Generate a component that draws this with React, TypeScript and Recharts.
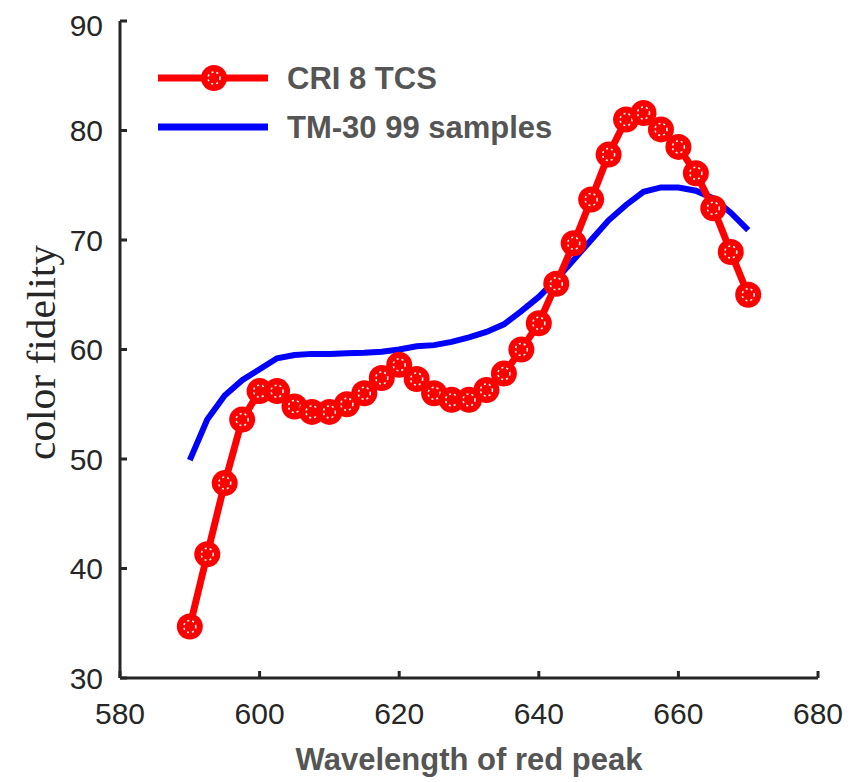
import { LineChart, Line, XAxis, YAxis, Legend } from "recharts";

// wavelength of red peak (nm)
const wavelengths = [
  590, 592.5, 595, 597.5, 600, 602.5, 605, 607.5, 610, 612.5, 615, 617.5, 620,
  622.5, 625, 627.5, 630, 632.5, 635, 637.5, 640, 642.5, 645, 647.5, 650, 652.5,
  655, 657.5, 660, 662.5, 665, 667.5, 670,
];

const cri8 = [
  34.7, 41.3, 47.8, 53.6, 56.2, 56.2, 54.8, 54.3, 54.3, 55.0, 56.0, 57.4, 58.6,
  57.3, 56.0, 55.4, 55.4, 56.3, 57.8, 60.0, 62.4, 66.0, 69.7, 73.7, 77.8, 81.0,
  81.6, 80.1, 78.5, 76.1, 72.9, 68.9, 65.0,
];

const tm30 = [
  49.9, 53.6, 55.8, 57.2, 58.2, 59.2, 59.5, 59.6, 59.6, 59.65, 59.7, 59.8, 60.0,
  60.3, 60.4, 60.7, 61.1, 61.6, 62.3, 63.5, 64.8, 66.4, 68.2, 70.0, 71.8, 73.2,
  74.4, 74.8, 74.8, 74.5, 73.8, 72.5, 70.9,
];

const xTicks = [580, 600, 620, 640, 660, 680];
const yTicks = [30, 40, 50, 60, 70, 80, 90];

const data = wavelengths.map((w, i) => ({ w, cri: cri8[i], tm: tm30[i] }));

const AXIS = "#262626";
const LABEL = "#555555";
const SANS = "'Liberation Sans', Arial, sans-serif";

function Marker({ cx, cy }: { cx?: number; cy?: number }) {
  if (cx == null || cy == null) return null;
  return (
    <g>
      <circle cx={cx} cy={cy} r={13} fill="#ff0000" />
      <circle
        cx={cx}
        cy={cy}
        r={6}
        fill="none"
        stroke="#ffffff"
        strokeWidth={1.5}
        strokeDasharray="2 3"
      />
    </g>
  );
}

function LegendBox() {
  return (
    <svg width={440} height={110} style={{ display: "block" }}>
      <line x1={10} y1={30} x2={120} y2={30} stroke="#ff0000" strokeWidth={7} />
      <Marker cx={66} cy={30} />
      <text x={139} y={41} fontFamily={SANS} fontSize={31} fontWeight="bold" fill={LABEL}>
        CRI 8 TCS
      </text>
      <line x1={10} y1={79} x2={120} y2={79} stroke="#0000ff" strokeWidth={7} />
      <text x={139} y={90} fontFamily={SANS} fontSize={31} fontWeight="bold" fill={LABEL}>
        TM-30 99 samples
      </text>
    </svg>
  );
}

export default function App() {
  return (
    <LineChart
      width={857}
      height={774}
      data={data}
      margin={{ top: 13, right: 47, bottom: 0, left: 0 }}
    >
      <XAxis
        dataKey="w"
        type="number"
        domain={[580, 680]}
        ticks={xTicks}
        height={104}
        tickSize={-7}
        tickMargin={32}
        stroke={AXIS}
        strokeWidth={3}
        tick={{ fill: AXIS, fontSize: 30, fontFamily: SANS }}
        label={{
          content: (p: any) => {
            const vb = p.viewBox || {};
            return (
              <text
                x={vb.x + vb.width / 2}
                y={762}
                textAnchor="middle"
                fontFamily={SANS}
                fontSize={31}
                fontWeight="bold"
                fill={LABEL}
              >
                Wavelength of red peak
              </text>
            );
          },
        }}
      />
      <YAxis
        type="number"
        domain={[30, 90]}
        ticks={yTicks}
        width={112}
        tickSize={-7}
        tickMargin={24}
        stroke={AXIS}
        strokeWidth={3}
        tick={{ fill: AXIS, fontSize: 30, fontFamily: SANS }}
        label={{
          content: (p: any) => {
            const vb = p.viewBox || {};
            const cy = vb.y + vb.height / 2 + 3;
            return (
              <text
                x={47}
                y={cy}
                transform={`rotate(-90, 47, ${cy})`}
                textAnchor="middle"
                fontFamily="'Liberation Serif', 'Times New Roman', serif"
                fontSize={40}
                textLength={215}
                lengthAdjust="spacingAndGlyphs"
                fill={AXIS}
              >
                color fidelity
              </text>
            );
          },
        }}
      />
      <Legend
        layout="horizontal"
        align="center"
        verticalAlign="middle"
        wrapperStyle={{ top: 40, left: 140, width: 440, height: 110 }}
        content={() => <LegendBox />}
      />
      <Line
        dataKey="tm"
        stroke="#0000ff"
        strokeWidth={6}
        dot={false}
        activeDot={false}
        isAnimationActive={false}
      />
      <Line
        dataKey="cri"
        stroke="#ff0000"
        strokeWidth={7}
        dot={(props: any) => <Marker key={props.index} cx={props.cx} cy={props.cy} />}
        activeDot={false}
        isAnimationActive={false}
      />
    </LineChart>
  );
}
